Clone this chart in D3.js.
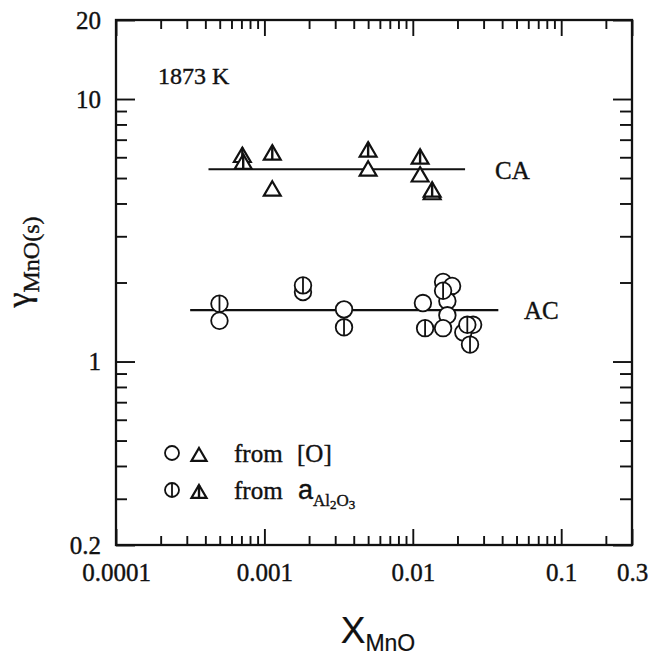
<!DOCTYPE html>
<html>
<head>
<meta charset="utf-8">
<script src="https://cdn.jsdelivr.net/npm/d3@7"></script>
<style>
  body { margin: 0; background: #fff; }
  text { font-family: "Liberation Serif", "DejaVu Serif", serif; fill: #111; stroke: #111; stroke-width: 0.4px; }
</style>
</head>
<body>
<svg id="chart"></svg>
<script>
// CA slag, triangles
const caOpenX = [0.00113, 0.0050, 0.0112, 0.0135];
const caOpenY = [4.54, 5.41, 5.14, 4.40];
const caHatchX = [0.00071, 0.00072, 0.00113, 0.0050, 0.0112, 0.0135];
const caHatchY = [6.10, 5.75, 6.23, 6.40, 6.01, 4.50];
const caLineX = [0.00042, 0.0225];
const caLineY = [5.4, 5.4];

// AC slag, circles
const acOpenX = [0.000498, 0.00182, 0.00344, 0.0117, 0.0160, 0.0184, 0.0171, 0.0171, 0.0160, 0.0219, 0.0255];
const acOpenY = [1.43, 1.84, 1.58, 1.67, 2.01, 1.94, 1.70, 1.50, 1.34, 1.29, 1.38];
const acHatchX = [0.000498, 0.00182, 0.00344, 0.0121, 0.0160, 0.0233, 0.0243];
const acHatchY = [1.66, 1.95, 1.35, 1.34, 1.86, 1.38, 1.16];
const acLineX = [0.000316, 0.0377];
const acLineY = [1.57, 1.57];

const xTickValues = [0.0001, 0.001, 0.01, 0.1, 0.3];
const xTickLabels = ["0.0001", "0.001", "0.01", "0.1", "0.3"];
const yTickValues = [0.2, 1, 10, 20];
const yTickLabels = ["0.2", "1", "10", "20"];

const width = 649;
const height = 656;
const margin = { left: 116, right: 17, top: 20, bottom: 111 };

const svg = d3.select("#chart").attr("width", width).attr("height", height);

const xScale = d3
  .scaleLog()
  .domain([0.0001, 0.3])
  .range([margin.left, width - margin.right]);

const yScale = d3
  .scaleLog()
  .domain([0.2, 20])
  .range([height - margin.bottom, margin.top]);

const x0 = xScale.range()[0];
const x1 = xScale.range()[1];
const y0 = yScale.range()[0];
const y1 = yScale.range()[1];

const isMajor = (vals) => (d) => vals.some((v) => Math.abs(v - d) / v < 1e-6);
const xMinor = xScale.ticks().filter((d) => !isMajor(xTickValues)(d));
const yMinor = yScale.ticks().filter((d) => !isMajor(yTickValues)(d));

const styleAxis = (g) => {
  g.select(".domain").remove();
  g.selectAll(".tick line").attr("stroke", "#111").attr("stroke-width", 1.9);
  g.selectAll(".tick text")
    .style("font-family", "Liberation Serif")
    .style("font-size", "25px")
    .attr("fill", "#111");
};

// major ticks with labels
svg
  .append("g")
  .attr("transform", `translate(0,${y0})`)
  .call(
    d3.axisBottom(xScale).tickValues(xTickValues).tickSize(-16).tickPadding(18)
      .tickFormat((d, i) => xTickLabels[i])
  )
  .call(styleAxis);
svg
  .append("g")
  .attr("transform", `translate(${x0},0)`)
  .call(
    d3.axisLeft(yScale).tickValues(yTickValues).tickSize(-19).tickPadding(15)
      .tickFormat((d, i) => yTickLabels[i])
  )
  .call(styleAxis);
svg
  .append("g")
  .attr("transform", `translate(0,${y1})`)
  .call(d3.axisTop(xScale).tickValues(xTickValues).tickSize(-16).tickFormat(""))
  .call(styleAxis);
svg
  .append("g")
  .attr("transform", `translate(${x1},0)`)
  .call(d3.axisRight(yScale).tickValues(yTickValues).tickSize(-19).tickFormat(""))
  .call(styleAxis);

// minor ticks
svg
  .append("g")
  .attr("transform", `translate(0,${y0})`)
  .call(d3.axisBottom(xScale).tickValues(xMinor).tickSize(-9).tickFormat(""))
  .call(styleAxis);
svg
  .append("g")
  .attr("transform", `translate(0,${y1})`)
  .call(d3.axisTop(xScale).tickValues(xMinor).tickSize(-9).tickFormat(""))
  .call(styleAxis);
svg
  .append("g")
  .attr("transform", `translate(${x0},0)`)
  .call(d3.axisLeft(yScale).tickValues(yMinor).tickSize(-11).tickFormat(""))
  .call(styleAxis);
svg
  .append("g")
  .attr("transform", `translate(${x1},0)`)
  .call(d3.axisRight(yScale).tickValues(yMinor).tickSize(-12).tickFormat(""))
  .call(styleAxis);

// frame
svg
  .append("rect")
  .attr("x", x0)
  .attr("y", y1)
  .attr("width", x1 - x0)
  .attr("height", y0 - y1)
  .attr("fill", "none")
  .attr("stroke", "#111")
  .attr("stroke-width", 2.3);

// fit lines
const line = d3
  .line()
  .x((d) => xScale(d[0]))
  .y((d) => yScale(d[1]));
[
  [caLineX, caLineY],
  [acLineX, acLineY],
].forEach(([xs, ys]) =>
  svg
    .append("path")
    .attr("d", line(xs.map((d, i) => [d, ys[i]])))
    .attr("fill", "none")
    .attr("stroke", "#111")
    .attr("stroke-width", 2.2)
);

// markers
const R = 8.3;
const triPath = (cx, cy, s) =>
  `M${cx},${cy - s}L${cx + s * 1.08},${cy + s * 0.85}L${cx - s * 1.08},${cy + s * 0.85}Z`;

const drawCircle = (g, cx, cy, r, hatched) => {
  g.append("circle")
    .attr("cx", cx)
    .attr("cy", cy)
    .attr("r", r)
    .attr("fill", "#fff")
    .attr("stroke", "#111")
    .attr("stroke-width", 1.8);
  if (hatched)
    g.append("line")
      .attr("x1", cx)
      .attr("x2", cx)
      .attr("y1", cy - r)
      .attr("y2", cy + r)
      .attr("stroke", "#111")
      .attr("stroke-width", 1.8);
};

const drawTriangle = (g, cx, cy, s, hatched) => {
  g.append("path")
    .attr("d", triPath(cx, cy, s))
    .attr("fill", "#fff")
    .attr("stroke", "#111")
    .attr("stroke-width", 2.2)
    .attr("stroke-linejoin", "miter");
  if (hatched)
    g.append("line")
      .attr("x1", cx)
      .attr("x2", cx)
      .attr("y1", cy - s)
      .attr("y2", cy + s * 0.85)
      .attr("stroke", "#111")
      .attr("stroke-width", 2.4);
};

const marks = svg.append("g");
acOpenX.forEach((d, i) => drawCircle(marks, xScale(d), yScale(acOpenY[i]), R, false));
acHatchX.forEach((d, i) => drawCircle(marks, xScale(d), yScale(acHatchY[i]), R, true));
caOpenX.forEach((d, i) => drawTriangle(marks, xScale(d), yScale(caOpenY[i]), 7.8, false));
caHatchX.forEach((d, i) => drawTriangle(marks, xScale(d), yScale(caHatchY[i]), 7.8, true));

// annotations
const label = (x, y, t, size = 25) =>
  svg
    .append("text")
    .attr("x", x)
    .attr("y", y)
    .style("font-size", `${size}px`)
    .text(t);

label(158, 84, "1873 K", 24);
label(495, 179, "CA");
label(524, 319, "AC");

// legend
drawCircle(svg, 172, 453, 7, false);
drawTriangle(svg, 199, 455, 7, false);
label(234, 462, "from");
label(297, 462, "[O]");
drawCircle(svg, 172, 490, 7, true);
drawTriangle(svg, 199, 492, 7, true);
label(234, 499, "from");
const leg2 = label(298, 499, "a", 27).style("font-family", "Liberation Sans");
leg2
  .append("tspan")
  .attr("dy", 7)
  .style("font-family", "Liberation Serif")
  .style("font-size", "17px")
  .text("Al");
leg2
  .append("tspan")
  .attr("dy", 3)
  .style("font-family", "Liberation Serif")
  .style("font-size", "13px")
  .text("2");
leg2
  .append("tspan")
  .attr("dy", -3)
  .style("font-family", "Liberation Serif")
  .style("font-size", "17px")
  .text("O");
leg2
  .append("tspan")
  .attr("dy", 3)
  .style("font-family", "Liberation Serif")
  .style("font-size", "13px")
  .text("3");

// axis titles
const xTitle = svg
  .append("text")
  .attr("x", 378)
  .attr("y", 643)
  .attr("text-anchor", "middle")
  .style("font-family", "Liberation Sans")
  .style("stroke-width", "0.2px")
  .style("font-size", "37px");
xTitle.append("tspan").text("X");
xTitle
  .append("tspan")
  .attr("dy", 8)
  .style("font-size", "23px")
  .text("MnO");

const yTitle = svg
  .append("text")
  .attr("transform", "translate(30,262) rotate(-90)")
  .attr("text-anchor", "middle")
  .style("font-size", "34px");
yTitle.append("tspan").text("γ");
yTitle
  .append("tspan")
  .attr("dy", 9)
  .style("font-size", "24px")
  .text("MnO(s)");
</script>
</body>
</html>
